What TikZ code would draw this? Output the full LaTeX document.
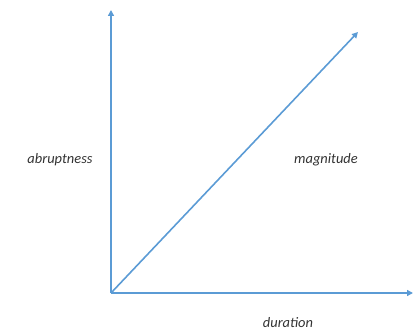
\documentclass[tikz,border=0pt]{standalone}
\usepackage{fontspec}
\setmainfont{Carlito}
\usetikzlibrary{arrows.meta}
\definecolor{axisblue}{HTML}{5B9BD5}
\tikzset{
  axis/.style={draw=axisblue, line width=1.6bp, -{Triangle[length=6bp,width=6bp]}},
  lbl/.style={font=\itshape\fontsize{14.5}{17}\selectfont, text=black!80, inner sep=0pt}
}
\begin{document}
\begin{tikzpicture}[x=1bp,y=1bp]
\useasboundingbox (0,0) rectangle (414,334);
\coordinate (o) at (111,41);
\coordinate (ytop) at (111,324);
\coordinate (xend) at (413,41);
\coordinate (dend) at (358,302);
\draw[axis] (o) -- (ytop);
\draw[axis] (o) -- (xend);
\draw[axis] (o) -- (dend);
\node[lbl] (abr) at (60,174) {abruptness};
\node[lbl] (mag) at (326,174) {magnitude};
\node[lbl] (dur) at (288,11) {duration};
\end{tikzpicture}
\end{document}
